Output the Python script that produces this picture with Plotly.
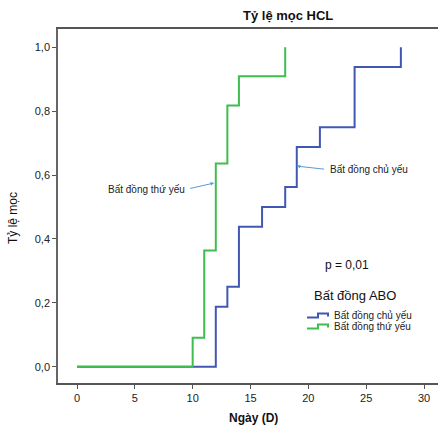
import plotly.graph_objects as go

# ---- data ----
blue_name = "Bất đồng chủ yếu"
green_name = "Bất đồng thứ yếu"
blue_days = [0, 12, 13, 14, 16, 18, 19, 21, 24, 28]
blue_rate = [0, 0.188, 0.25, 0.438, 0.5, 0.563, 0.688, 0.75, 0.938, 1.0]
green_days = [0, 10, 11, 12, 13, 14, 18]
green_rate = [0, 0.091, 0.364, 0.636, 0.818, 0.909, 1.0]
x_ticks = [0, 5, 10, 15, 20, 25, 30]
y_ticks = [0, 0.2, 0.4, 0.6, 0.8, 1.0]
y_ticktext = ["0,0", "0,2", "0,4", "0,6", "0,8", "1,0"]

BLUE = "#4158b2"
GREEN = "#3fbd4f"
ARROW = "#5b9bd5"
FONT = "Arial, Liberation Sans, sans-serif"

W, H = 438, 428
L, R, T, B = 58, 0, 29, 45
PW, PH = W - L - R, H - T - B


def px(xp):
    return (xp - L) / PW


def py(yp):
    return (H - B - yp) / PH


def label(text, xp, yp, size, xanchor="center", color="#111", angle=0):
    return dict(text=text, xref="paper", yref="paper", x=px(xp), y=py(yp),
                xanchor=xanchor, yanchor="middle", textangle=angle, showarrow=False,
                font=dict(size=size, color=color, family=FONT))


fig = go.Figure()
fig.add_trace(go.Scatter(x=blue_days, y=blue_rate, mode="lines", name=blue_name,
                         line=dict(color=BLUE, width=2, shape="hv"), showlegend=False))
fig.add_trace(go.Scatter(x=green_days, y=green_rate, mode="lines", name=green_name,
                         line=dict(color=GREEN, width=2, shape="hv"), showlegend=False))

ann = [
    label("<b>Tỷ lệ mọc HCL</b>", 288, 15, 13),
    label("<b>Ngày (D)</b>", 253, 418, 12),
    label("Tỷ lệ mọc", 13, 218, 12, angle=-90),
    label(green_name, 187, 189, 10, xanchor="right", color="#222"),
    dict(text="", x=11.85, y=0.575, xref="x", yref="y", axref="x", ayref="y",
         ax=9.65, ay=0.557, showarrow=True, arrowhead=2, arrowsize=0.7,
         arrowwidth=1, arrowcolor=ARROW),
    label(blue_name, 328, 169, 10, xanchor="left", color="#222"),
    dict(text="", x=19.0, y=0.628, xref="x", yref="y", axref="x", ayref="y",
         ax=21.5, ay=0.618, showarrow=True, arrowhead=2, arrowsize=0.7,
         arrowwidth=1, arrowcolor=ARROW),
    label("p = 0,01", 347, 265, 12),
    label("Bất đồng ABO", 355, 295, 13),
    label(blue_name, 332, 315, 10, xanchor="left", color="#222"),
    label(green_name, 332, 326, 10, xanchor="left", color="#222"),
]

shapes = []
for yc, col in [(315, BLUE), (326, GREEN)]:
    path = "M {} {} L {} {} L {} {} L {} {} L {} {}".format(
        px(307), py(yc + 2.5), px(318), py(yc + 2.5), px(318), py(yc - 1.5),
        px(328), py(yc - 1.5), px(328), py(yc + 1.5))
    shapes.append(dict(type="path", path=path, xref="paper", yref="paper",
                       line=dict(color=col, width=2)))

x0 = -(77 - L) / ((424 - 77) / 30)
x1 = 30 + (W - R - 424) / ((424 - 77) / 30)
ypp = 366.7 - 47.3
y0 = -(H - B - 366.7) / ypp
y1 = 1 + (47.3 - T) / ypp

fig.update_layout(
    width=W, height=H,
    margin=dict(l=L, r=R, t=T, b=B),
    plot_bgcolor="white", paper_bgcolor="white",
    font=dict(family=FONT, size=11, color="#222"),
    annotations=ann, shapes=shapes,
    xaxis=dict(range=[x0, x1], tickvals=x_ticks, ticktext=[str(v) for v in x_ticks],
               showgrid=False, zeroline=False, showline=True, linecolor="#555", linewidth=1.5,
               mirror=True, ticks="outside", ticklen=4, tickcolor="#555",
               tickfont=dict(size=11, color="#222")),
    yaxis=dict(range=[y0, y1], tickvals=y_ticks, ticktext=y_ticktext,
               showgrid=False, zeroline=False, showline=True, linecolor="#666", linewidth=1.5,
               ticks="outside", ticklen=4, tickcolor="#555",
               tickfont=dict(size=11, color="#222")),
)

fig.write_html("out.html", config={"displayModeBar": False},
               post_script="document.body.style.margin='0';document.body.style.overflow='hidden';")
